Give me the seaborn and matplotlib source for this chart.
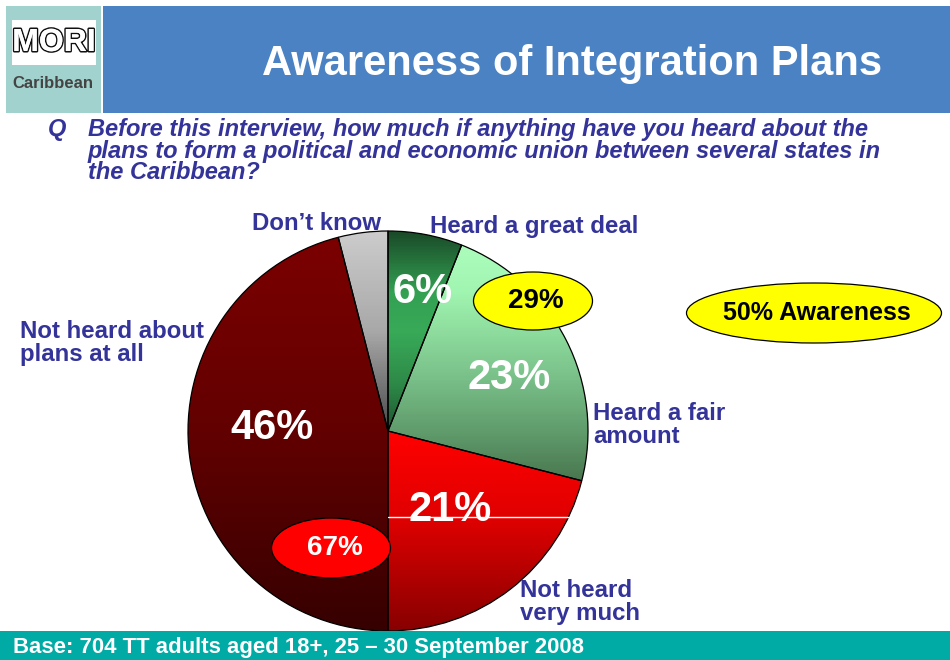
import numpy as np
import matplotlib
matplotlib.use("Agg")
import matplotlib.pyplot as plt
import seaborn as sns
from matplotlib.patches import Rectangle, Ellipse
from matplotlib.colors import LinearSegmentedColormap
import matplotlib.patheffects as pe

# ---------------- data ----------------
categories = ["Heard a great deal", "Heard a fair\namount", "Not heard\nvery much",
              "Not heard about\nplans at all", "Don\u2019t know"]
shares = [6, 23, 21, 46, 4]
share_labels = ["6%", "23%", "21%", "46%", ""]
heard_total_label = "29%"
not_heard_total_label = "67%"
awareness_label = "50% Awareness"
title = "Awareness of Integration Plans"
question = ("Before this interview, how much if anything have you heard about the\n"
            "plans to form a political and economic union between several states in\n"
            "the Caribbean?")
base_note = "Base: 704 TT adults aged 18+, 25 \u2013 30 September 2008"

# vertical gradient stops per slice (t=0 top of pie, t=1 bottom of pie)
gradients = [
    [(0.0, "#1a4a28"), (0.15, "#33a052"), (0.25, "#38aa58"), (0.38, "#2e8a48"), (0.5, "#1d5530"), (1.0, "#1d5530")],
    [(0.0, "#b0ffc0"), (0.15, "#a0f5b0"), (0.35, "#7cc48c"), (0.5, "#609c6c"), (0.62, "#4a7850"), (1.0, "#4a7850")],
    [(0.0, "#ff0000"), (0.5, "#ff0000"), (0.72, "#e00000"), (0.87, "#b00000"), (1.0, "#880000")],
    [(0.0, "#7c0000"), (0.5, "#620000"), (1.0, "#360000")],
    [(0.0, "#cccccc"), (0.25, "#a8a8a8"), (0.5, "#4a4a4a"), (1.0, "#4a4a4a")],
]

# ---------------- style ----------------
sns.set_theme(style="white")
plt.rcParams['font.family'] = ['Liberation Sans', 'DejaVu Sans']

W, H = 950, 660
fig = plt.figure(figsize=(W / 100, H / 100), dpi=100)
ax = fig.add_axes([0, 0, 1, 1])
ax.set_axis_off()

def Y(y):
    return H - y

LABEL = "#333399"

# header
ax.add_patch(Rectangle((6, Y(113)), 95, 107, facecolor="#a2d2ce", edgecolor="none", zorder=1))
ax.add_patch(Rectangle((103, Y(113)), 847, 107, facecolor="#4a82c4", edgecolor="none", zorder=1))
ax.add_patch(Rectangle((12, Y(65)), 84, 45, facecolor="white", edgecolor="none", zorder=2))
ax.text(54, Y(43), "MORI", fontsize=23, fontweight="bold", color="white", ha="center", va="center",
        zorder=3, path_effects=[pe.withStroke(linewidth=2.2, foreground="#111111"), pe.Normal()])
ax.text(53, Y(83), "Caribbean", fontsize=12, fontweight="bold", color="#444444", ha="center",
        va="center", zorder=3)
ax.text(572, Y(64), title, fontsize=30, fontweight="bold", color="white", ha="center", va="center", zorder=3)

# question
ax.text(48, Y(118), "Q", fontsize=17, fontweight="bold", fontstyle="italic", color=LABEL,
        ha="left", va="top")
ax.text(88, Y(118), question, fontsize=17, fontweight="bold", fontstyle="italic", color=LABEL,
        ha="left", va="top", linespacing=0.92)

# pie
cx, cy, R = 388, Y(431), 200
wedges, _ = ax.pie(shares, startangle=90, counterclock=False, center=(cx, cy), radius=R,
                   wedgeprops=dict(edgecolor="black", linewidth=0.9), frame=True)
for w, stops in zip(wedges, gradients):
    cmap = LinearSegmentedColormap.from_list("g", stops)
    grad = np.linspace(0, 1, 400).reshape(-1, 1)
    im = ax.imshow(grad, cmap=cmap, vmin=0, vmax=1, aspect="auto", origin="upper",
                   extent=(w.center[0] - w.r, w.center[0] + w.r, w.center[1] - w.r, w.center[1] + w.r),
                   zorder=2, interpolation="bilinear")
    im.set_clip_path(w)
    w.set_facecolor("none")
    w.set_zorder(3)

# thin white artifact line in the red slice
ax.plot([cx, 568], [Y(517), Y(517)], color="white", lw=1, zorder=4)

# slice percentages
for txt, (x, y) in zip(share_labels, [(423, 292), (509, 378), (450, 510), (272, 428), (0, 0)]):
    if txt:
        ax.text(x, Y(y), txt, fontsize=30, fontweight="bold", color="white", ha="center",
                va="center", zorder=6)

# category labels
lab_pos = [(430, 226, "left"), (593, 425, "left"), (520, 602, "left"), (20, 343, "left"), (381, 224, "right")]
for txt, (x, y, ha) in zip(categories, lab_pos):
    ax.text(x, Y(y), txt, fontsize=17.3, fontweight="bold", color=LABEL, ha=ha, va="center",
            linespacing=0.95, zorder=6)

# ellipses
ax.add_patch(Ellipse((533, Y(301)), 119, 58, facecolor="#ffff00", edgecolor="black", lw=0.9, zorder=7))
ax.text(536, Y(301), heard_total_label, fontsize=20, fontweight="bold", color="black",
        ha="center", va="center", zorder=8)
ax.add_patch(Ellipse((331, Y(548)), 119, 60, facecolor="#ff0000", edgecolor="black", lw=0.9, zorder=7))
ax.text(335, Y(548), not_heard_total_label, fontsize=20, fontweight="bold", color="white",
        ha="center", va="center", zorder=8)
ax.add_patch(Ellipse((814, Y(313)), 255, 60, facecolor="#ffff00", edgecolor="black", lw=0.9, zorder=7))
ax.text(817, Y(313), awareness_label, fontsize=18, fontweight="bold", color="black",
        ha="center", va="center", zorder=8)

# footer
ax.add_patch(Rectangle((0, 0), W, Y(631), facecolor="#00aaa5", edgecolor="none", zorder=9))
ax.text(13, Y(648), base_note, fontsize=15.9, fontweight="bold", color="white", ha="left",
        va="center", zorder=10)

ax.set_xlim(0, W)
ax.set_ylim(0, H)
ax.set_aspect("auto")
fig.savefig("out.png", dpi=100)
